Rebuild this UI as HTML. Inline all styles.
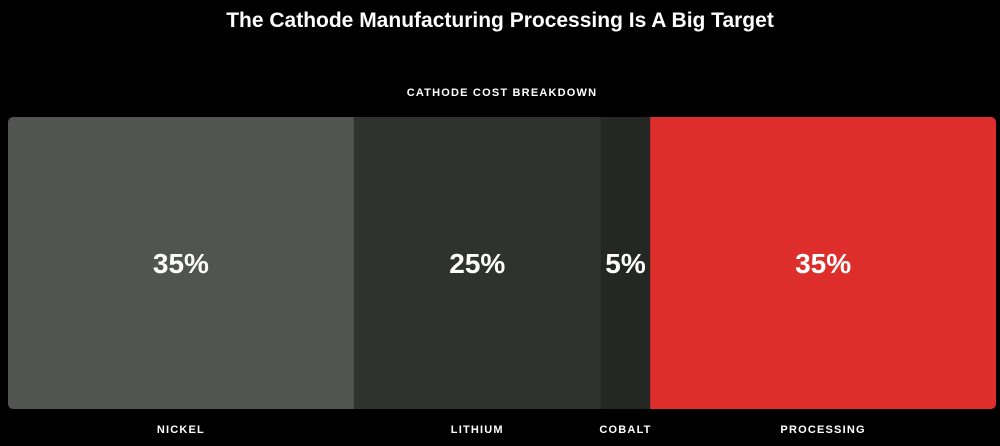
<!DOCTYPE html>
<html><head><meta charset="utf-8"><style>
html,body{margin:0;padding:0;background:#000;width:1000px;height:446px;overflow:hidden;font-family:"Liberation Sans",sans-serif;}
</style></head><body>
<svg width="1000" height="446">
<text x="500" y="27" text-anchor="middle" fill="#fff" font-size="21" font-weight="bold">The Cathode Manufacturing Processing Is A Big Target</text>
<text x="502" y="96" text-anchor="middle" fill="#fff" font-size="11" font-weight="bold" letter-spacing="1.2">CATHODE COST BREAKDOWN</text>
<defs><clipPath id="cp"><rect x="8" y="117" width="988" height="292" rx="5"/></clipPath></defs>
<g id="bars" clip-path="url(#cp)"></g>
<g id="labels"></g>
</svg>
<script>
const categories=["NICKEL","LITHIUM","COBALT","PROCESSING"];
const values=[35,25,5,35];
const colors=["#525451","#30322f","#252724","#dd2e2b"];
const X0=8,W=988,Y0=117,H=292;
const total=values.reduce((a,b)=>a+b,0);
const xs=v=>v/total*W;
const ns="http://www.w3.org/2000/svg";
const bars=document.getElementById('bars'),labels=document.getElementById('labels');
let cx=X0;
values.forEach((v,i)=>{
 const w=xs(v);
 const r=document.createElementNS(ns,'rect');
 r.setAttribute('x',cx);r.setAttribute('y',Y0);r.setAttribute('width',w+0.5);r.setAttribute('height',H);r.setAttribute('fill',colors[i]);
 
 
 bars.appendChild(r);
 const t=document.createElementNS(ns,'text');
 t.setAttribute('x',cx+w/2);t.setAttribute('y',Y0+H/2+10);t.setAttribute('text-anchor','middle');t.setAttribute('fill','#fff');t.setAttribute('font-size','28');t.setAttribute('font-weight','bold');
 t.textContent=v+'%';
 
 
 labels.appendChild(t);
 const c=document.createElementNS(ns,'text');
 c.setAttribute('x',cx+w/2);c.setAttribute('y',433);c.setAttribute('text-anchor','middle');c.setAttribute('fill','#fff');c.setAttribute('font-size','11');c.setAttribute('font-weight','bold');c.setAttribute('letter-spacing','1.2');
 c.textContent=categories[i];
 
 
 labels.appendChild(c);
 cx+=w;
});
</script>
</body></html>
